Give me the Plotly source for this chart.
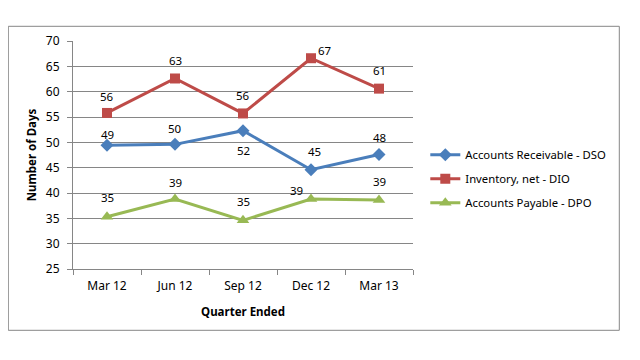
import plotly.graph_objects as go

quarters = ["Mar 12", "Jun 12", "Sep 12", "Dec 12", "Mar 13"]
dso = [49.4, 49.6, 52.3, 44.6, 47.6]
dio = [55.8, 62.6, 55.7, 66.6, 60.6]
dpo = [35.3, 38.8, 34.6, 38.8, 38.6]
y_ticks = [25, 30, 35, 40, 45, 50, 55, 60, 65, 70]

W, H = 640, 360
OFF = 8  # browser body margin
L, R, T, B = 72.7 - OFF, 412.7 - OFF, 40.7 - OFF, 268.7 - OFF

def px_x(x):
    return (x - OFF - L) / (R - L)

def px_y(y):
    return (B - (y - OFF)) / (B - T)

font = "Noto Sans"

# label offsets (dx, dy) in pixels relative to each point
offs = {
    "dso": [(0, 11), (0, 16), (0, -20), (3, 18), (0, 17)],
    "dio": [(0, 16), (0, 18), (0, 18), (14, 8), (0, 18)],
    "dpo": [(0, 19), (0, 17), (0, 19), (-15, 9), (0, 19)],
}

series = [
    ("dso", dso, "Accounts Receivable - DSO", "#4A7EBB", "diamond", 10),
    ("dio", dio, "Inventory, net - DIO", "#BE4B48", "square", 10),
    ("dpo", dpo, "Accounts Payable - DPO", "#98B954", "triangle-up", 11),
]

fig = go.Figure()
annotations = []
for key, vals, name, color, sym, size in series:
    fig.add_trace(go.Scatter(
        x=quarters, y=vals, name=name, legendgroup=key,
        mode="lines+markers", cliponaxis=False,
        line=dict(color=color, width=3),
        marker=dict(symbol=sym, size=size, color=color),
    ))
    for q, v, (dx, dy) in zip(quarters, vals, offs[key]):
        annotations.append(dict(
            x=q, y=v, xref="x", yref="y", text=f"{v:.0f}" if v % 1 != 0.5 else str(int(v) + 1),
            showarrow=False, xshift=dx, yshift=dy,
            font=dict(family=font, size=11.5, color="#000000"),
        ))

fig.update_layout(
    width=W, height=H,
    margin=dict(l=L, r=W - R, t=T, b=H - B, pad=0),
    paper_bgcolor="white", plot_bgcolor="white",
    font=dict(family=font, size=11, color="#000000"),
    showlegend=True,
    annotations=annotations,
    legend=dict(x=px_x(425), y=px_y(140), xanchor="left", yanchor="top",
                font=dict(family=font, size=11.3, color="#000000"),
                traceorder="grouped", tracegroupgap=5, itemwidth=30,
                bgcolor="rgba(0,0,0,0)"),
    xaxis=dict(
        type="category", range=[-0.5, 4.5],
        showline=True, linecolor="#868686", linewidth=1,
        ticks="outside", ticklen=5, tickcolor="#868686",
        tickson="boundaries", showgrid=False, ticklabelstandoff=6,
        tickfont=dict(family=font, size=12),
        title=dict(text="<b>Quarter Ended</b>", font=dict(family=font, size=11.5), standoff=14),
    ),
    yaxis=dict(
        range=[25, 70], tickvals=y_ticks,
        showline=True, linecolor="#868686", linewidth=1,
        ticks="outside", ticklen=5, tickcolor="#868686",
        showgrid=True, gridcolor="#868686", gridwidth=1,
        zeroline=False, ticklabelstandoff=5,
        tickfont=dict(family=font, size=12),
        title=dict(text="<b>Number of Days</b>", font=dict(family=font, size=11.5), standoff=6),
    ),
    shapes=[dict(type="rect", xref="paper", yref="paper",
                 x0=px_x(8), x1=px_x(619), y0=px_y(330), y1=px_y(26),
                 line=dict(color="#868686", width=1), fillcolor="rgba(0,0,0,0)", layer="below")],
)

fig.write_html("out.html")
